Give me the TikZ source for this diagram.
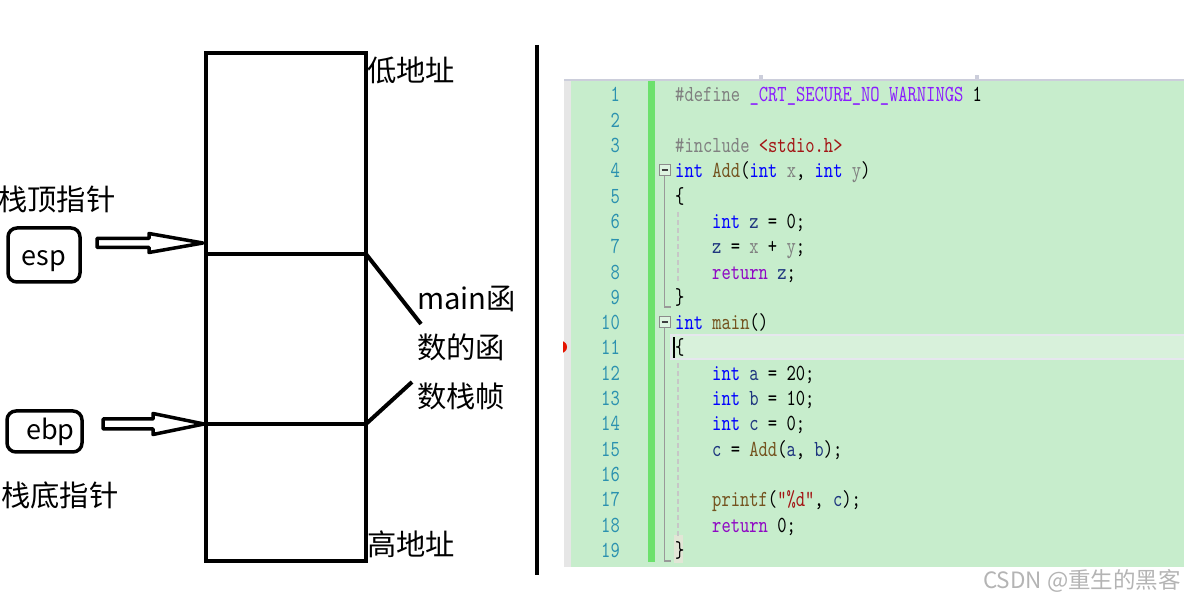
\documentclass[tikz,border=0pt]{standalone}
\usepackage{fontspec}
\usepackage{xcolor}
\usetikzlibrary{positioning,calc}
\newfontfamily\cjk{Noto Sans CJK SC}
\newfontfamily\codefont{lmmono10-regular}[Extension=.otf, FakeStretch=0.77]
\definecolor{eyegreen}{RGB}{199,237,204}
\definecolor{gutter}{RGB}{230,230,230}
\definecolor{bargreen}{RGB}{108,225,108}
\definecolor{topedge}{RGB}{204,206,219}
\definecolor{lnteal}{RGB}{43,145,175}
\definecolor{kwblue}{RGB}{0,0,255}
\definecolor{fnbrown}{RGB}{116,83,31}
\definecolor{prmgray}{RGB}{128,128,128}
\definecolor{lclblue}{RGB}{31,55,127}
\definecolor{strred}{RGB}{163,21,21}
\definecolor{macpurple}{RGB}{138,27,255}
\definecolor{ctlpurple}{RGB}{143,8,196}
\definecolor{wmgray}{RGB}{180,180,180}
\definecolor{bpred}{RGB}{229,20,0}
\definecolor{curfill}{RGB}{216,241,219}
\definecolor{curedge}{RGB}{230,231,238}
\definecolor{bracepatch}{RGB}{226,230,214}
\newcommand{\kwd}[1]{\textcolor{kwblue}{#1}}
\newcommand{\fnc}[1]{\textcolor{fnbrown}{#1}}
\newcommand{\prm}[1]{\textcolor{prmgray}{#1}}
\newcommand{\lcl}[1]{\textcolor{lclblue}{#1}}
\newcommand{\strg}[1]{\textcolor{strred}{#1}}
\newcommand{\ppd}[1]{\textcolor{prmgray}{#1}}
\newcommand{\mcr}[1]{\textcolor{macpurple}{#1}}
\newcommand{\ctl}[1]{\textcolor{ctlpurple}{#1}}
\newcommand{\rowy}[1]{102+25.3*(#1-1)}

\begin{document}
\begin{tikzpicture}[x=1pt, y=-1pt,
    cell/.style={draw, line width=4pt, inner sep=0, outer sep=0, minimum width=160pt, anchor=north west},
    lbl/.style={inner sep=0, font=\cjk\fontsize{29.3}{29.3}\selectfont},
    ptr/.style={draw, line width=3.5pt, rounded corners=9pt, inner sep=0, outer sep=0,
                text depth=0pt, font=\cjk\fontsize{27}{27}\selectfont},
    hollow/.style={draw, line width=3.5pt, line join=round},
    stroke/.style={line width=4pt},
    lineno/.style={anchor=base east, inner sep=0, text=lnteal, font=\codefont\fontsize{23}{23}\selectfont},
    code/.style={anchor=base west, inner sep=0, font=\codefont\fontsize{23}{23}\selectfont},
    foldbox/.style={draw=black!45, fill=eyegreen!60!white, line width=1pt, minimum size=11pt, inner sep=0,
                path picture={\draw[black!75, line width=1.3pt]
                ([xshift=2.5pt]path picture bounding box.west) -- ([xshift=-2.5pt]path picture bounding box.east);}},
    foldline/.style={black!40, line width=1.5pt},
    guide/.style={black!22, line width=1.5pt, dash pattern=on 5pt off 3pt}]

    \useasboundingbox (0,0) rectangle (1184,601);

    \node[cell, minimum height=201pt] (slotlow) at (206,53) {};
    \node[cell, minimum height=170pt] (frame) at (206,254) {};
    \node[cell, minimum height=137pt] (slothigh) at (206,424) {};

    \node[lbl, anchor=west] (lowaddr) at (367,70) {低地址};
    \node[lbl, anchor=west] (highaddr) at (367,544) {高地址};
    \node[lbl, anchor=west] (toplbl) at (-2,199) {栈顶指针};
    \node[lbl, anchor=west] (botlbl) at (1,495) {栈底指针};

    \node[ptr, minimum width=72pt, minimum height=54pt, text height=22pt] (esp) at (44,255) {esp};
    \node[ptr, minimum width=75pt, minimum height=41pt, text height=17pt] (ebp) at (44.5,431.5) {\hspace{12pt}ebp};

    \coordinate (esptip) at ([shift={(-3,-11)}]frame.north west);
    \coordinate (ebptip) at ([shift={(-2,0)}]frame.south west);
    \draw[hollow] (esptip) -- ++(-54,-9.5) -- ++(0,5) -- ++(-52,0) -- ++(0,9) -- ++(52,0) -- ++(0,5) -- cycle;
    \draw[hollow] (ebptip) -- ++(-51,-10.5) -- ++(0,5.5) -- ++(-50,0) -- ++(0,10) -- ++(50,0) -- ++(0,5.5) -- cycle;

    \node[lbl, anchor=base west] (tag1) at (417,310) {main函};
    \node[lbl, anchor=base west] (tag2) at (417,359) {数的函};
    \node[lbl, anchor=base west] (tag3) at (417,408) {数栈帧};
    \coordinate (tagtop) at (421,324);
    \coordinate (tagbot) at (412,382);
    \draw[stroke] (frame.north east) -- (tagtop);
    \draw[stroke] (frame.south east) -- (tagbot);

    \draw[stroke] (537,45) -- (537,575);

    \fill[gutter] (564,81) rectangle (571,567);
    \fill[eyegreen] (571,81) rectangle (1184,567);
    \draw[topedge, line width=1.5pt] (564,80) -- (1184,80);
    \fill[topedge] (759,75) rectangle (763,80);
    \fill[topedge] (975,75) rectangle (979,80);
    \begin{scope}
        \clip (563,330) rectangle (570,365);
        \fill[bpred] (561,347) circle (6);
    \end{scope}
    \fill[bargreen] (648,81) rectangle (655,562);

    \draw[curedge, fill=curfill, line width=2pt] (671,335) rectangle (1190,359);
    \fill[bracepatch] (674,535) rectangle (683,563);
    \fill[black] (673,337) rectangle (675,358);

    \foreach \n in {1,...,19}
        \node[lineno] (ln\n) at (620,{\rowy{\n}}) {\n};

    \node[foldbox] (fold4) at (664.5,170) {};
    \node[foldbox] (fold10) at (664.5,322) {};
    \draw[foldline] (fold4.south) -- (664.5,307) -- (671,307);
    \draw[foldline] (fold10.south) -- (664.5,561) -- (671,561);
    \draw[guide] (678,212) -- (678,283);
    \draw[guide] (678,363) -- (678,537);

    \node[code] (c1) at (675,{\rowy{1}}) {\ppd{\#define} \mcr{\_CRT\_SECURE\_NO\_WARNINGS} 1};
    \node[code] (c3) at (675,{\rowy{3}}) {\ppd{\#include} \strg{<stdio.h>}};
    \node[code] (c4) at (675,{\rowy{4}}) {\kwd{int} \fnc{Add}(\kwd{int} \prm{x}, \kwd{int} \prm{y})};
    \node[code] (c5) at (675,{\rowy{5}}) {\{};
    \node[code] (c6) at (712,{\rowy{6}}) {\kwd{int} \lcl{z} = 0;};
    \node[code] (c7) at (712,{\rowy{7}}) {\lcl{z} = \prm{x} + \prm{y};};
    \node[code] (c8) at (712,{\rowy{8}}) {\ctl{return} \lcl{z};};
    \node[code] (c9) at (675,{\rowy{9}}) {\}};
    \node[code] (c10) at (675,{\rowy{10}}) {\kwd{int} \fnc{main}()};
    \node[code] (c11) at (675,{\rowy{11}}) {\{};
    \node[code] (c12) at (712,{\rowy{12}}) {\kwd{int} \lcl{a} = 20;};
    \node[code] (c13) at (712,{\rowy{13}}) {\kwd{int} \lcl{b} = 10;};
    \node[code] (c14) at (712,{\rowy{14}}) {\kwd{int} \lcl{c} = 0;};
    \node[code] (c15) at (712,{\rowy{15}}) {\lcl{c} = \fnc{Add}(\lcl{a}, \lcl{b});};
    \node[code] (c17) at (712,{\rowy{17}}) {\fnc{printf}(\strg{"\%d"}, \lcl{c});};
    \node[code] (c18) at (712,{\rowy{18}}) {\ctl{return} 0;};
    \node[code] (c19) at (675,{\rowy{19}}) {\}};

    \node[anchor=base west, inner sep=0, text=wmgray, font=\cjk\fontsize{22.5}{22.5}\selectfont] (mark) at (983,588) {CSDN @重生的黑客};
\end{tikzpicture}
\end{document}
